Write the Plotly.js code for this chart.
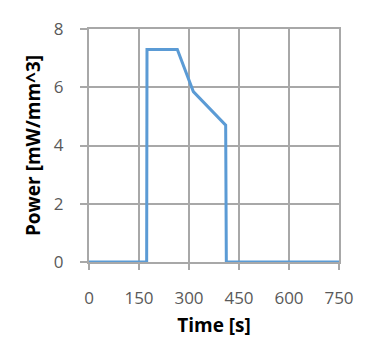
<!DOCTYPE html>
<html>
<head>
<meta charset="utf-8">
<script src="https://cdn.plot.ly/plotly-3.0.1.min.js"></script>
<style>html,body{margin:0;padding:0;background:#fff;}#chart{width:387px;height:351px;}</style>
</head>
<body>
<div id="chart"></div>
<script>
var timeS = [0, 173, 174, 265, 313, 410, 412, 750];
var powerMW = [0, 0, 7.3, 7.3, 5.85, 4.7, 0, 0];
var xTicks = [0, 150, 300, 450, 600, 750];
var yTicks = [0, 2, 4, 6, 8];

var trace = {
  x: timeS, y: powerMW, type: 'scatter', mode: 'lines',
  line: {color: '#5b9bd5', width: 3}, hoverinfo: 'skip', cliponaxis: false
};
var tickFont = {family: 'Open Sans, Liberation Sans, sans-serif', size: 17, color: '#595959'};
var titleFont = {family: 'Open Sans, Liberation Sans, sans-serif', size: 19, color: '#000', weight: 'bold'};
var gridCol = '#a8a8a8';
var layout = {
  width: 387, height: 351,
  margin: {l: 89, r: 48, t: 29, b: 89},
  paper_bgcolor: '#fff', plot_bgcolor: '#fff',
  showlegend: false,
  xaxis: {
    range: [0, 750], tickvals: xTicks, ticktext: xTicks.map(String),
    showgrid: true, gridcolor: gridCol, gridwidth: 2,
    zeroline: false, showline: true, mirror: true, linecolor: gridCol, linewidth: 2,
    ticks: 'outside', ticklen: 6, tickcolor: gridCol, tickwidth: 2,
    ticklabelstandoff: 14,
    tickfont: tickFont,
    title: {text: 'Time [s]', font: titleFont, standoff: 10}
  },
  yaxis: {
    range: [0, 8], tickvals: yTicks, ticktext: yTicks.map(String),
    showgrid: true, gridcolor: gridCol, gridwidth: 2,
    zeroline: false, showline: true, mirror: true, linecolor: gridCol, linewidth: 2,
    ticks: 'outside', ticklen: 7, tickcolor: gridCol, tickwidth: 2,
    ticklabelstandoff: 13,
    tickfont: tickFont,
    title: {text: 'Power [mW/mm^3]', font: titleFont, standoff: 8}
  }
};
Plotly.newPlot('chart', [trace], layout, {displayModeBar: false, staticPlot: true});
</script>
</body>
</html>
